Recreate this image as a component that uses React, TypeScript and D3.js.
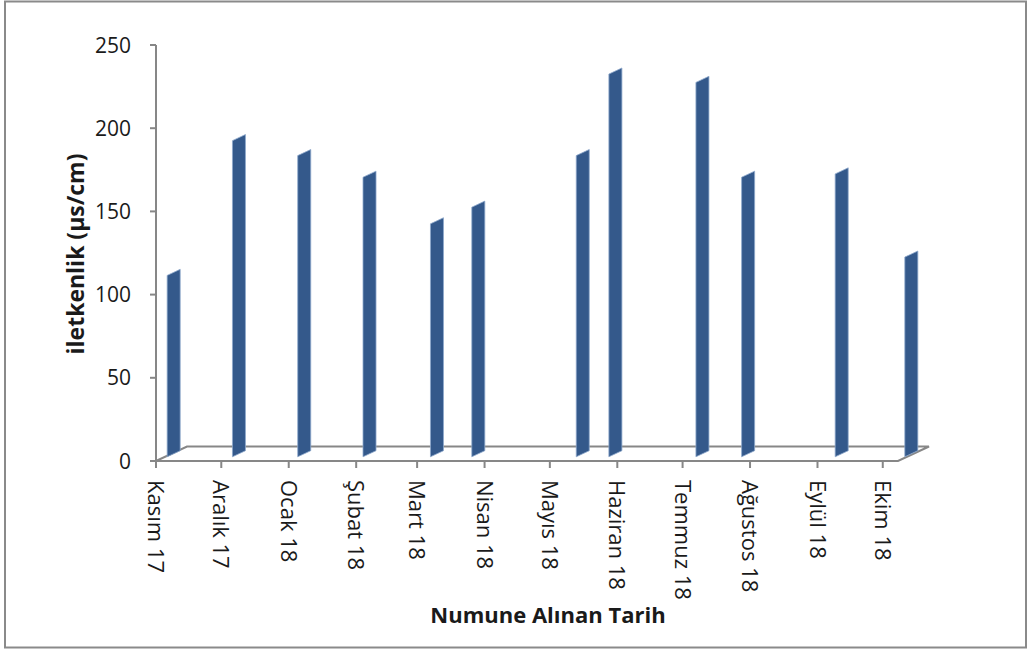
import React from "react";
import * as d3 from "d3";

// Sampling dates and conductivity readings
const sampleDates = [
  "2017-11-02", "2017-12-02", "2018-01-01", "2018-01-31", "2018-03-03", "2018-03-22",
  "2018-05-09", "2018-05-24", "2018-07-03", "2018-07-24", "2018-09-05", "2018-10-07",
];
const conductivity = [109, 190, 181, 168, 140, 150, 181, 230, 225, 168, 170, 120];

// Month tick labels (Turkish)
const monthLabels = [
  "Kasım 17", "Aralık 17", "Ocak 18", "Şubat 18", "Mart 18", "Nisan 18",
  "Mayıs 18", "Haziran 18", "Temmuz 18", "Ağustos 18", "Eylül 18", "Ekim 18",
];
const yTicks = [0, 50, 100, 150, 200, 250];

const W = 1030;
const H = 650;
const FONT = "'Open Sans', 'Liberation Sans', sans-serif";
const AXIS = "#878787";

export default function App() {
  const start = new Date(Date.UTC(2017, 10, 1));
  const end = new Date(Date.UTC(2018, 9, 8));
  const x = d3.scaleUtc().domain([start, end]).range([156, 898]);
  const y = d3.scaleLinear().domain([0, 250]).range([461, 45]);
  const monthTicks = d3.utcMonth.range(start, new Date(Date.UTC(2018, 9, 2)));

  // oblique depth of the floor and of each column
  const depthDx = 31;
  const depthDy = -14.5;
  const d0 = 0.29;
  const d1 = 0.71;

  const x0 = x(start);
  const x1 = x(end);
  const y0 = y(0);

  const bars = sampleDates.map((s, i) => {
    const px = x(new Date(s + "T00:00:00Z"));
    const top = y(conductivity[i]);
    const ax = px + depthDx * d0;
    const bx = px + depthDx * d1;
    const pts = [
      [ax, y0 + depthDy * d0],
      [ax, top + depthDy * d0],
      [bx, top + depthDy * d1],
      [bx, y0 + depthDy * d1],
    ];
    return pts.map((p) => p.join(",")).join(" ");
  });

  return (
    <svg
      width={W}
      height={H}
      style={{ position: "absolute", left: 0, top: 0, background: "#fff" }}
    >
      <rect x={5} y={1.5} width={1021} height={646} fill="#fff" stroke="#8a8a8a" strokeWidth={2} />

      {/* floor */}
      <polygon
        points={`${x0},${y0} ${x0 + depthDx},${y0 + depthDy} ${x1 + depthDx},${y0 + depthDy} ${x1},${y0}`}
        fill="none"
        stroke={AXIS}
        strokeWidth={2}
      />

      {/* value axis */}
      <line x1={x0} x2={x0} y1={y(250)} y2={y0} stroke={AXIS} strokeWidth={2} />
      {yTicks.map((t) => (
        <g key={t}>
          <line x1={x0 - 6} x2={x0} y1={y(t)} y2={y(t)} stroke={AXIS} strokeWidth={2} />
          <text
            x={131}
            y={y(t)}
            dy="0.36em"
            textAnchor="end"
            fontFamily={FONT}
            fontSize={21}
            fill="#1a1a1a"
          >
            {t}
          </text>
        </g>
      ))}

      {/* category (date) axis */}
      {monthTicks.map((m, i) => (
        <g key={i}>
          <line x1={x(m)} x2={x(m)} y1={y0} y2={y0 + 7} stroke={AXIS} strokeWidth={2} />
          <text
            transform={`translate(${x(m)},${480}) rotate(90)`}
            dy="0.36em"
            textAnchor="start"
            fontFamily={FONT}
            fontSize={22}
            fill="#1a1a1a"
          >
            {monthLabels[i]}
          </text>
        </g>
      ))}

      {/* columns */}
      {bars.map((p, i) => (
        <polygon key={i} points={p} fill="#34598b" stroke="#8ea8cc" strokeWidth={0.8} strokeLinejoin="round" />
      ))}

      {/* axis titles */}
      <text
        transform={`translate(76,254) rotate(-90)`}
        dy="0.36em"
        textAnchor="middle"
        fontFamily={FONT}
        fontWeight="bold"
        fontSize={23}
        fill="#1a1a1a"
      >
        iletkenlik (µs/cm)
      </text>
      <text
        x={548}
        y={615}
        dy="0.36em"
        textAnchor="middle"
        fontFamily={FONT}
        fontWeight="bold"
        fontSize={22}
        fill="#1a1a1a"
      >
        Numune Alınan Tarih
      </text>
    </svg>
  );
}
